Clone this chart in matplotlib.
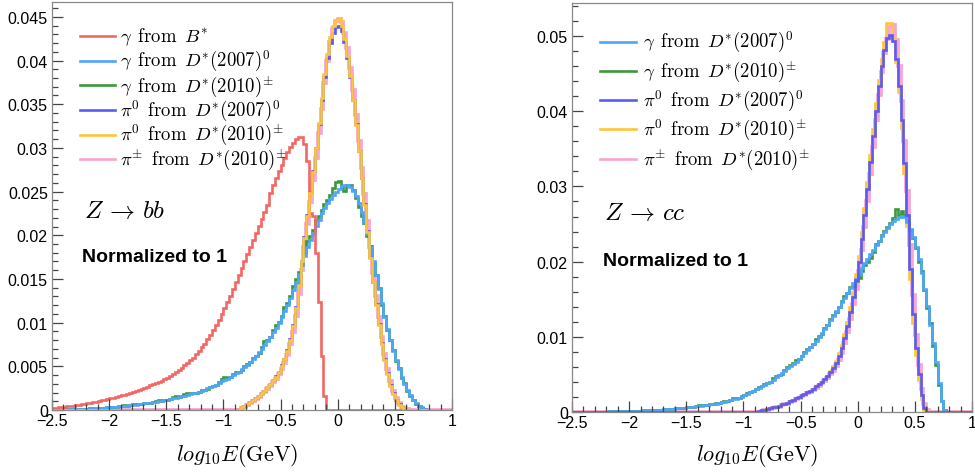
#!/usr/bin/env python3
"""Photon / pion energy spectra from D* and B* decays, Z -> bb and Z -> cc."""

import numpy as np
import matplotlib
matplotlib.use("Agg")
import matplotlib.pyplot as plt
from matplotlib.lines import Line2D
from matplotlib.ticker import MultipleLocator, FuncFormatter

plt.rcParams["font.family"] = ["Liberation Sans", "DejaVu Sans"]
plt.rcParams["mathtext.fontset"] = "cm"

N_BINS = 140
X_MIN, X_MAX = -2.5, 1.0


def pad(start, vals):
    return [0.0] * start + vals + [0.0] * (N_BINS - start - len(vals))


# ---- Z -> bb (left panel), bin contents ----
BB_GAMMA_B = pad(0, [
    0.00022, 0.00025, 0.00029, 0.00033, 0.00037, 0.00041, 0.00045, 0.0005, 0.00055, 0.0006,
    0.00065, 0.00071, 0.00077, 0.00083, 0.0009, 0.00097, 0.00104, 0.00111, 0.00118, 0.00125,
    0.00133, 0.00141, 0.0015, 0.00159, 0.00168, 0.00177, 0.00187, 0.00197, 0.00207, 0.00218,
    0.00229, 0.00241, 0.00254, 0.00267, 0.00281, 0.00296, 0.0031, 0.00322, 0.00335, 0.0035,
    0.0037, 0.0039, 0.0041, 0.0043, 0.0046, 0.0048, 0.0051, 0.0054, 0.0057, 0.006,
    0.0064, 0.0068, 0.0072, 0.0076, 0.0081, 0.0086, 0.0091, 0.0097, 0.0103, 0.011,
    0.0117, 0.0124, 0.0131, 0.0139, 0.0147, 0.0155, 0.0163, 0.0171, 0.0179, 0.0187,
    0.0195, 0.0203, 0.0211, 0.0219, 0.0227, 0.0235, 0.0248, 0.0257, 0.0265, 0.0273,
    0.0281, 0.0288, 0.0295, 0.0301, 0.0306, 0.031, 0.0313, 0.0312, 0.0305, 0.0285,
    0.0225, 0.0222, 0.018, 0.0124, 0.0062, 0.0016])

BB_GAMMA_D0 = pad(0, [
    0.00002, 0.00003, 0.00004, 0.00005, 0.00006, 0.00007, 0.00008, 0.00009, 0.0001, 0.00011,
    0.00012, 0.00014, 0.00016, 0.00018, 0.0002, 0.00022, 0.00024, 0.00026, 0.00028, 0.0003,
    0.00032, 0.00035, 0.00038, 0.00041, 0.00044, 0.00047, 0.0005, 0.00054, 0.00058, 0.00062,
    0.00066, 0.0007, 0.00075, 0.0008, 0.00085, 0.0009, 0.00096, 0.00102, 0.00108, 0.00114,
    0.0012, 0.00127, 0.00134, 0.00141, 0.00149, 0.00157, 0.00165, 0.00174, 0.00183, 0.00192,
    0.002, 0.0021, 0.0022, 0.0023, 0.0025, 0.0026, 0.0028, 0.0029, 0.0031, 0.0033,
    0.0034, 0.0036, 0.0038, 0.004, 0.0042, 0.0044, 0.0047, 0.0049, 0.0052, 0.0055,
    0.0058, 0.0062, 0.0066, 0.007, 0.0074, 0.0079, 0.0084, 0.0089, 0.0094, 0.01,
    0.0106, 0.0113, 0.012, 0.0128, 0.0137, 0.0146, 0.0156, 0.0166, 0.0176, 0.0186,
    0.0195, 0.0203, 0.0211, 0.0218, 0.0225, 0.0231, 0.0237, 0.0242, 0.0246, 0.025,
    0.0253, 0.0256, 0.0257, 0.0257, 0.0255, 0.0251, 0.0245, 0.0237, 0.0227, 0.0215,
    0.0201, 0.0186, 0.017, 0.0154, 0.0138, 0.0122, 0.0107, 0.0093, 0.008, 0.0068,
    0.0057, 0.0047, 0.0038, 0.003, 0.0023, 0.0017, 0.0012, 0.0008, 0.0005, 0.0003,
    0.0001])

BB_GAMMA_DPM = pad(0, [
    0.00002, 0.00003, 0.00004, 0.00005, 0.00006, 0.00007, 0.00008, 0.00009, 0.0001, 0.00011,
    0.00012, 0.00014, 0.00016, 0.00018, 0.0002, 0.00022, 0.00024, 0.00026, 0.00028, 0.0003,
    0.00032, 0.00035, 0.00038, 0.00041, 0.0005, 0.00052, 0.0005, 0.00054, 0.00066, 0.00068,
    0.00066, 0.0007, 0.00075, 0.0008, 0.00085, 0.0009, 0.00105, 0.0011, 0.00108, 0.00114,
    0.0012, 0.00127, 0.0015, 0.00155, 0.00149, 0.00157, 0.0018, 0.0019, 0.0019, 0.002,
    0.002, 0.0021, 0.0023, 0.0023, 0.0024, 0.0026, 0.0027, 0.0029, 0.0032, 0.0035,
    0.0038, 0.0037, 0.0038, 0.0041, 0.0043, 0.0044, 0.0046, 0.005, 0.0053, 0.0055,
    0.006, 0.0062, 0.0065, 0.0072, 0.0079, 0.008, 0.0083, 0.0092, 0.0097, 0.0101,
    0.0108, 0.0118, 0.0122, 0.0131, 0.0142, 0.015, 0.0158, 0.0168, 0.018, 0.0193,
    0.0199, 0.0206, 0.0218, 0.0222, 0.0229, 0.0236, 0.024, 0.0246, 0.0254, 0.0261,
    0.0262, 0.0255, 0.0251, 0.0257, 0.0258, 0.0252, 0.0243, 0.0232, 0.0222, 0.0214,
    0.0199, 0.0188, 0.0168, 0.0154, 0.014, 0.012, 0.0108, 0.0091, 0.008, 0.0069,
    0.0056, 0.0048, 0.0037, 0.0031, 0.0022, 0.0016, 0.0012, 0.0007, 0.0005, 0.0002,
    0.0001])

BB_PI0_D0 = pad(65, [
    0.0001, 0.0003, 0.0005, 0.0007, 0.0009, 0.0011, 0.0014, 0.0016, 0.0019, 0.0022,
    0.0026, 0.003, 0.0034, 0.0039, 0.0044, 0.0051,
    0.0058, 0.0069, 0.0081, 0.0097, 0.0118, 0.0144, 0.0171, 0.0198, 0.0223, 0.0249,
    0.0273, 0.03, 0.0327, 0.0355, 0.0381, 0.0403, 0.042, 0.0432, 0.0438,
    0.0439, 0.0434, 0.0421, 0.0403, 0.0381, 0.0355, 0.0327, 0.0297, 0.0266, 0.0236,
    0.0205, 0.0175, 0.0147, 0.0121, 0.0098, 0.0077, 0.0058, 0.0042, 0.0029, 0.0019,
    0.0012, 0.0007, 0.0003, 0.0001])

BB_PI0_DPM = pad(65, [
    0.0001, 0.0003, 0.0005, 0.0007, 0.0009, 0.0011, 0.0014, 0.0016, 0.0019, 0.0022,
    0.0026, 0.003, 0.0034, 0.0038, 0.0044, 0.005,
    0.0058, 0.0068, 0.008, 0.0096, 0.0117, 0.0143, 0.017, 0.0197, 0.0222, 0.0248,
    0.0272, 0.03, 0.0328, 0.0357, 0.0385, 0.0408, 0.0427, 0.0439, 0.0446,
    0.0447, 0.044, 0.0425, 0.0405, 0.0382, 0.0355, 0.0326, 0.0296, 0.0265, 0.0235,
    0.0204, 0.0174, 0.0146, 0.012, 0.0097, 0.0076, 0.0057, 0.0041, 0.0028, 0.0018,
    0.0011, 0.0006, 0.0003, 0.0001])

BB_PIPM_DPM = pad(65, [
    0.0, 0.0002, 0.0004, 0.0006, 0.0008, 0.001, 0.0013, 0.0015, 0.0018, 0.0021,
    0.0024, 0.0028, 0.0032, 0.0036, 0.0041, 0.0047,
    0.0054, 0.0063, 0.0075, 0.0089, 0.0108, 0.0133, 0.016, 0.0187, 0.0213, 0.0238,
    0.0263, 0.0289, 0.0317, 0.0345, 0.0374, 0.0399, 0.0421, 0.0436, 0.0445,
    0.0448, 0.0444, 0.0432, 0.0414, 0.0392, 0.0366, 0.0338, 0.0308, 0.0277, 0.0247,
    0.0216, 0.0186, 0.0157, 0.013, 0.0106, 0.0084, 0.0064, 0.0047, 0.0033, 0.0022,
    0.0014, 0.0008, 0.0004, 0.0002, 0.0001])

# ---- Z -> cc (right panel) ----
CC_GAMMA_D0 = pad(0, [
    0.00002, 0.00002, 0.00003, 0.00003, 0.00003, 0.00004, 0.00004, 0.00004, 0.00005, 0.00005,
    0.00005, 0.00006, 0.00006, 0.00007, 0.00007, 0.00008, 0.00008, 0.00009, 0.00009, 0.0001,
    0.00011, 0.00012, 0.00014, 0.00016, 0.00018, 0.0002, 0.00022, 0.00024, 0.00026, 0.00028,
    0.0003, 0.00032, 0.00035, 0.00038, 0.00041, 0.00044, 0.00047, 0.0005, 0.00054, 0.00058,
    0.00062, 0.00066, 0.0007, 0.00074, 0.00079, 0.00084, 0.00089, 0.00094, 0.001, 0.00106,
    0.00112, 0.00119, 0.00127, 0.00136, 0.00146, 0.00156, 0.00167, 0.00179, 0.00192, 0.00205,
    0.0022, 0.0024, 0.0026, 0.0028, 0.003, 0.0032, 0.0034, 0.0036, 0.0038, 0.004,
    0.0043, 0.0046, 0.0049, 0.0052, 0.0055, 0.0058, 0.0061, 0.0064, 0.0067, 0.007,
    0.0074, 0.0078, 0.0082, 0.0086, 0.009, 0.0095, 0.01, 0.0105, 0.011, 0.0116,
    0.0122, 0.0128, 0.0134, 0.014, 0.0146, 0.0152, 0.0158, 0.0165, 0.0171, 0.0177,
    0.0184, 0.0191, 0.0198, 0.0204, 0.021, 0.0216, 0.0222, 0.0228, 0.0234, 0.024,
    0.0245, 0.025, 0.0254, 0.0257, 0.026, 0.0261, 0.0259, 0.0253, 0.0244, 0.0233,
    0.0219, 0.0203, 0.0185, 0.0164, 0.0141, 0.0116, 0.0092, 0.0066, 0.0038, 0.0015,
    0.0002])

CC_GAMMA_DPM = pad(0, [
    0.00002, 0.00002, 0.00003, 0.00003, 0.00003, 0.00004, 0.00004, 0.00004, 0.00005, 0.00005,
    0.00005, 0.00006, 0.00006, 0.00007, 0.00007, 0.00008, 0.00008, 0.00009, 0.00009, 0.0001,
    0.00011, 0.00012, 0.00014, 0.00016, 0.00018, 0.0002, 0.00022, 0.00024, 0.00026, 0.00028,
    0.0003, 0.00032, 0.00035, 0.00038, 0.00041, 0.00044, 0.0005, 0.0005, 0.00054, 0.00058,
    0.00062, 0.00066, 0.0007, 0.00074, 0.0009, 0.0009, 0.00089, 0.00094, 0.001, 0.00106,
    0.0012, 0.0012, 0.0013, 0.0014, 0.0015, 0.0016, 0.0018, 0.0018, 0.0019, 0.0021,
    0.0023, 0.0025, 0.0026, 0.0028, 0.0031, 0.0033, 0.0034, 0.0037, 0.0039, 0.004,
    0.0045, 0.0048, 0.0049, 0.0051, 0.0056, 0.006, 0.0062, 0.0065, 0.0069, 0.0071,
    0.0075, 0.008, 0.0084, 0.0086, 0.0091, 0.0097, 0.0101, 0.0104, 0.0112, 0.0116,
    0.0124, 0.0129, 0.0133, 0.0139, 0.0147, 0.0154, 0.0158, 0.0166, 0.0168, 0.0174,
    0.0178, 0.0187, 0.0196, 0.0199, 0.0205, 0.0213, 0.0224, 0.0228, 0.0236, 0.0241,
    0.0246, 0.0252, 0.0258, 0.027, 0.0262, 0.0268, 0.0262, 0.0254, 0.0242, 0.0232,
    0.0218, 0.02, 0.0187, 0.0162, 0.0138, 0.0118, 0.0088, 0.0062, 0.0036, 0.0014,
    0.0002])

CC_PI0_D0 = pad(65, [
    0.0001, 0.0002, 0.0003, 0.0004, 0.0005, 0.0006, 0.0007, 0.0008, 0.001, 0.0011,
    0.0012, 0.0014, 0.0016, 0.0018, 0.002, 0.0022, 0.0024, 0.0026, 0.0028, 0.0031,
    0.0034, 0.0037, 0.004, 0.0044, 0.0048, 0.0053, 0.0058, 0.0065, 0.0074, 0.0085,
    0.0099, 0.0115, 0.0133, 0.0153, 0.0175,
    0.02, 0.023, 0.0262, 0.0296, 0.0332, 0.0367, 0.0401, 0.0433, 0.046, 0.0482,
    0.0497, 0.0501, 0.0493, 0.047, 0.0434, 0.0388, 0.0331, 0.0262, 0.019, 0.013,
    0.0085, 0.005, 0.0022, 0.0005])

CC_PI0_DPM = pad(65, [
    0.0001, 0.0002, 0.0003, 0.0004, 0.0005, 0.0006, 0.0007, 0.0008, 0.001, 0.0011,
    0.0012, 0.0014, 0.0016, 0.0018, 0.002, 0.0022, 0.0024, 0.0026, 0.0028, 0.0031,
    0.0034, 0.0037, 0.004, 0.0044, 0.0048, 0.0055, 0.0061, 0.0068, 0.0078, 0.0089,
    0.0104, 0.012, 0.0139, 0.016, 0.0183,
    0.0208, 0.0239, 0.0272, 0.0306, 0.0342, 0.0377, 0.0411, 0.0442, 0.047, 0.0492,
    0.0517, 0.0518, 0.0498, 0.0466, 0.0426, 0.0378, 0.0318, 0.0248, 0.0177, 0.0119,
    0.0076, 0.0042, 0.0017, 0.0003])

CC_PIPM_DPM = pad(65, [
    0.0, 0.0001, 0.0002, 0.0003, 0.0004, 0.0005, 0.0006, 0.0007, 0.0009, 0.001,
    0.0011, 0.0013, 0.0015, 0.0017, 0.0019, 0.0021, 0.0023, 0.0025, 0.0027, 0.0029,
    0.0032, 0.0035, 0.0038, 0.0041, 0.0045, 0.005, 0.0055, 0.0061, 0.0069, 0.0079,
    0.0092, 0.0107, 0.0124, 0.0143, 0.0164,
    0.0187, 0.0215, 0.0246, 0.028, 0.0316, 0.0352, 0.0388, 0.0421, 0.0452, 0.0477,
    0.0496, 0.0512, 0.0515, 0.0495, 0.046, 0.0414, 0.036, 0.0294, 0.0222, 0.0156,
    0.0103, 0.0062, 0.0031, 0.001, 0.0002])

LABELS = {
    "gB": r"$\gamma\ \,\mathrm{from}\ \,B^{*}$",
    "gD0": r"$\gamma\ \,\mathrm{from}\ \,D^{*}(2007)^{0}$",
    "gDpm": r"$\gamma\ \,\mathrm{from}\ \,D^{*}(2010)^{\pm}$",
    "p0D0": r"$\pi^{0}\ \,\mathrm{from}\ \,D^{*}(2007)^{0}$",
    "p0Dpm": r"$\pi^{0}\ \,\mathrm{from}\ \,D^{*}(2010)^{\pm}$",
    "ppmDpm": r"$\pi^{\pm}\ \,\mathrm{from}\ \,D^{*}(2010)^{\pm}$",
}
COLORS = {
    "gB": "#f26763",
    "gD0": "#4ea6f7",
    "gDpm": "#3a9a3a",
    "p0D0": "#5a5af7",
    "p0Dpm": "#ffc53a",
    "ppmDpm": "#f7a6d2",
}
LW = 1.9

edges = np.linspace(X_MIN, X_MAX, N_BINS + 1)
fmt = FuncFormatter(lambda v, p: ("%g" % v).replace("-", "\u2212"))


def style(ax, ymax, ymaj, ymin):
    ax.set_xlim(X_MIN, X_MAX)
    ax.set_ylim(0, ymax)
    ax.xaxis.set_major_locator(MultipleLocator(0.5))
    ax.xaxis.set_minor_locator(MultipleLocator(0.1))
    ax.yaxis.set_major_locator(MultipleLocator(ymaj))
    ax.yaxis.set_minor_locator(MultipleLocator(ymin))
    ax.xaxis.set_major_formatter(fmt)
    ax.yaxis.set_major_formatter(fmt)
    ax.tick_params(which="both", direction="in", top=False, right=False,
                   labelsize=11.5, color="#444444", width=0.9)
    ax.tick_params(axis="x", which="major", length=8, pad=2)
    ax.tick_params(axis="x", which="minor", length=4)
    ax.tick_params(axis="y", which="major", length=8, pad=3)
    ax.tick_params(axis="y", which="minor", length=4)
    for s in ax.spines.values():
        s.set_color("#888888")
        s.set_linewidth(0.9)


def draw(ax, series, order):
    for k in order:
        lw = LW + 0.8 if k == "ppmDpm" else LW
        ax.stairs(series[k], edges, color=COLORS[k], lw=lw, baseline=None)


def legend(ax, keys, y0, pitch, x0, x1, xt, size):
    # ROOT style legend: short line sample + text, no frame
    for i, k in enumerate(keys):
        y = y0 - i * pitch
        ax.add_line(Line2D([x0, x1], [y, y], transform=ax.transAxes,
                           color=COLORS[k], lw=LW))
        ax.text(xt, y, LABELS[k], transform=ax.transAxes, fontsize=size,
                va="center", ha="left")


fig = plt.figure(figsize=(9.75, 4.77), dpi=100)
axL = fig.add_axes([52 / 975, 66 / 477, 400 / 975, 408 / 477])
axR = fig.add_axes([572 / 975, 64 / 477, 400 / 975, 409 / 477])

# left: Z -> bb
bb = {"gB": BB_GAMMA_B, "gD0": BB_GAMMA_D0, "gDpm": BB_GAMMA_DPM,
      "p0D0": BB_PI0_D0, "p0Dpm": BB_PI0_DPM, "ppmDpm": BB_PIPM_DPM}
draw(axL, bb, ["ppmDpm", "p0D0", "gDpm", "gD0", "gB", "p0Dpm"])
style(axL, 0.0467, 0.005, 0.001)
legend(axL, ["gB", "gD0", "gDpm", "p0D0", "p0Dpm", "ppmDpm"],
       0.916, 0.0603, 0.07, 0.158, 0.17, 13.5)
axL.text(0.08, 0.49, r"$Z\,\rightarrow\,bb$", transform=axL.transAxes,
         fontsize=18, va="center", ha="left")
axL.text(0.075, 0.375, "Normalized to 1", transform=axL.transAxes,
         fontsize=14, fontweight="bold", va="center", ha="left")
axL.text(0.462, -0.108, r"$log_{10}E(\mathrm{GeV})$", transform=axL.transAxes,
         fontsize=16, va="center", ha="center")

# right: Z -> cc
cc = {"gD0": CC_GAMMA_D0, "gDpm": CC_GAMMA_DPM, "p0D0": CC_PI0_D0,
      "p0Dpm": CC_PI0_DPM, "ppmDpm": CC_PIPM_DPM}
draw(axR, cc, ["ppmDpm", "p0Dpm", "gDpm", "gD0", "p0D0"])
style(axR, 0.0544, 0.01, 0.002)
legend(axR, ["gD0", "gDpm", "p0D0", "p0Dpm", "ppmDpm"],
       0.905, 0.0713, 0.07, 0.16, 0.1775, 13.5)
axR.text(0.08, 0.489, r"$Z\,\rightarrow\,cc$", transform=axR.transAxes,
         fontsize=18, va="center", ha="left")
axR.text(0.077, 0.37, "Normalized to 1", transform=axR.transAxes,
         fontsize=14, fontweight="bold", va="center", ha="left")
axR.text(0.464, -0.103, r"$log_{10}E(\mathrm{GeV})$", transform=axR.transAxes,
         fontsize=16, va="center", ha="center")

fig.savefig("out.png", dpi=100)
